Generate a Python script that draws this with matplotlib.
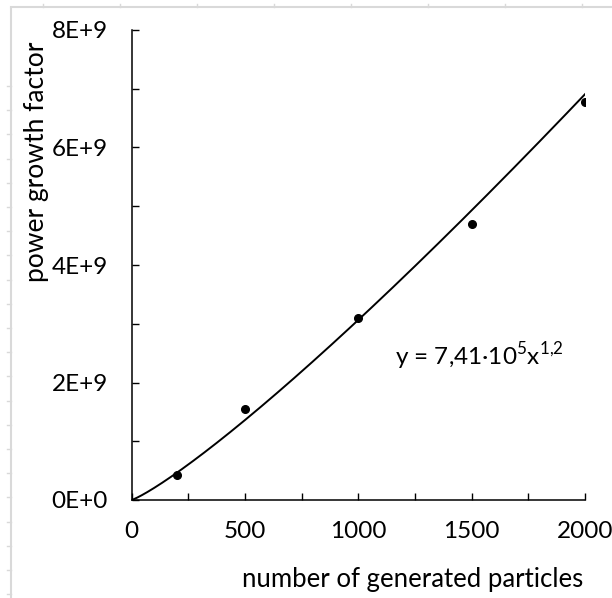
import numpy as np
import matplotlib.pyplot as plt
from matplotlib.lines import Line2D
from matplotlib.ticker import MultipleLocator, FuncFormatter

# data
particles = [200, 500, 1000, 1500, 2000]
growth = [0.43e9, 1.55e9, 3.10e9, 4.70e9, 6.78e9]
equation_label = "y = 7,41·10$^{\\mathrm{5}}$x$^{\\mathrm{1{,}2}}$"
x_label = "number of generated particles"
y_label = "power growth factor"

plt.rcParams['font.family'] = ['Lato', 'DejaVu Sans']
plt.rcParams['mathtext.fontset'] = 'custom'
plt.rcParams['mathtext.rm'] = 'Lato'

fig = plt.figure(figsize=(6.12, 5.98), dpi=100)
ax = fig.add_axes([131.5 / 612, 1 - 500 / 598, (585 - 131.5) / 612, (500 - 30) / 598])

# power trendline fitted in log space (like a spreadsheet trendline)
b, log_a = np.polyfit(np.log(particles), np.log(growth), 1)
xs = np.linspace(0, 2000, 400)
ax.plot(xs, np.exp(log_a) * xs ** b, color='black', lw=1.4)
ax.plot(particles, growth, 'o', color='black', ms=5.5)

ax.set_xlim(0, 2000)
ax.set_ylim(0, 8e9)
ax.xaxis.set_major_locator(MultipleLocator(500))
ax.xaxis.set_minor_locator(MultipleLocator(250))
ax.yaxis.set_major_locator(MultipleLocator(2e9))
ax.yaxis.set_minor_locator(MultipleLocator(1e9))
ax.yaxis.set_major_formatter(FuncFormatter(lambda v, p: f"{int(round(v / 1e9))}E+{9 if v else 0}"))
ax.tick_params(which='both', direction='in', length=5, width=1, color='black')
ax.tick_params(axis='x', which='major', labelsize=17.5, pad=15)
ax.tick_params(axis='y', which='major', labelsize=17.5, pad=17)
for s in ['top', 'right']:
    ax.spines[s].set_visible(False)
for s in ['left', 'bottom']:
    ax.spines[s].set_linewidth(1.1)

ax.set_xlabel(x_label, fontsize=18.5)
ax.xaxis.set_label_coords(0.62, -0.142)
ax.set_ylabel(y_label, fontsize=19)
ax.yaxis.set_label_coords(-0.181, 0.72)
ax.text(1160, 2.45e9, equation_label, fontsize=17.5, va='center', ha='left')

# faint ruler frame around the picture
grey = '#d9d9d9'
fig.add_artist(Line2D([11 / 612, 11 / 612], [0, 1 - 8 / 598], color=grey, lw=1.5))
fig.add_artist(Line2D([11 / 612, 1], [1 - 7 / 598, 1 - 7 / 598], color=grey, lw=1.5))
for yp in np.arange(86, 598, 24.2):
    fig.add_artist(Line2D([7 / 612, 11 / 612], [1 - yp / 598] * 2, color=grey, lw=1))
for xp in np.arange(43, 612, 77):
    fig.add_artist(Line2D([xp / 612] * 2, [1 - 7 / 598, 1 - 4 / 598], color=grey, lw=1))

fig.savefig('out.png', dpi=100)
